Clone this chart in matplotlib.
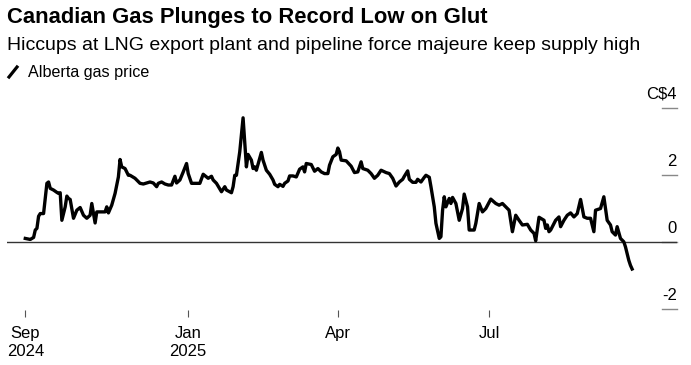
import pandas as pd
import matplotlib.pyplot as plt
from matplotlib.lines import Line2D

plt.rcParams['font.family'] = ['Liberation Sans', 'DejaVu Sans']

# Alberta gas price (C$)
dates = [
    '2024-09-25', '2024-09-28', '2024-09-30', '2024-10-01', '2024-10-02', '2024-10-03',
    '2024-10-04', '2024-10-06', '2024-10-08', '2024-10-09', '2024-10-10', '2024-10-12',
    '2024-10-14', '2024-10-15', '2024-10-16', '2024-10-17', '2024-10-19', '2024-10-20',
    '2024-10-21', '2024-10-22', '2024-10-24', '2024-10-26', '2024-10-28', '2024-10-30',
    '2024-11-01', '2024-11-03', '2024-11-04', '2024-11-06', '2024-11-07', '2024-11-09',
    '2024-11-12', '2024-11-13', '2024-11-14', '2024-11-16', '2024-11-18', '2024-11-20',
    '2024-11-21', '2024-11-22', '2024-11-24', '2024-11-26', '2024-11-27', '2024-11-30',
    '2024-12-03', '2024-12-05', '2024-12-07', '2024-12-09', '2024-12-11', '2024-12-13',
    '2024-12-14', '2024-12-16', '2024-12-18', '2024-12-20', '2024-12-22', '2024-12-24',
    '2024-12-25', '2024-12-27', '2024-12-29', '2024-12-31', '2025-01-01', '2025-01-03',
    '2025-01-05', '2025-01-08', '2025-01-10', '2025-01-12', '2025-01-13', '2025-01-15',
    '2025-01-16', '2025-01-18', '2025-01-21', '2025-01-23', '2025-01-24', '2025-01-27',
    '2025-01-28', '2025-01-29', '2025-01-30', '2025-02-01', '2025-02-03', '2025-02-04',
    '2025-02-05', '2025-02-06', '2025-02-08', '2025-02-09', '2025-02-10', '2025-02-11',
    '2025-02-14', '2025-02-15', '2025-02-17', '2025-02-19', '2025-02-21', '2025-02-22',
    '2025-02-24', '2025-02-25', '2025-02-27', '2025-02-28', '2025-03-02', '2025-03-03',
    '2025-03-05', '2025-03-07', '2025-03-09', '2025-03-11', '2025-03-12', '2025-03-13',
    '2025-03-16', '2025-03-18', '2025-03-20', '2025-03-22', '2025-03-24', '2025-03-26',
    '2025-03-27', '2025-03-29', '2025-03-31', '2025-04-01', '2025-04-02', '2025-04-03',
    '2025-04-06', '2025-04-09', '2025-04-11', '2025-04-13', '2025-04-15', '2025-04-16',
    '2025-04-19', '2025-04-21', '2025-04-23', '2025-04-25', '2025-04-27', '2025-04-30',
    '2025-05-02', '2025-05-04', '2025-05-06', '2025-05-08', '2025-05-10', '2025-05-11',
    '2025-05-13', '2025-05-14', '2025-05-16', '2025-05-18', '2025-05-19', '2025-05-21',
    '2025-05-23', '2025-05-24', '2025-05-26', '2025-05-27', '2025-05-29', '2025-05-30',
    '2025-06-01', '2025-06-02', '2025-06-03', '2025-06-04', '2025-06-05', '2025-06-07',
    '2025-06-08', '2025-06-09', '2025-06-11', '2025-06-13', '2025-06-15', '2025-06-16',
    '2025-06-18', '2025-06-19', '2025-06-22', '2025-06-23', '2025-06-25', '2025-06-27',
    '2025-06-29', '2025-07-02', '2025-07-05', '2025-07-07', '2025-07-09', '2025-07-11',
    '2025-07-13', '2025-07-15', '2025-07-17', '2025-07-19', '2025-07-21', '2025-07-24',
    '2025-07-26', '2025-07-28', '2025-07-29', '2025-07-31', '2025-08-03', '2025-08-04',
    '2025-08-05', '2025-08-06', '2025-08-07', '2025-08-10', '2025-08-12', '2025-08-13',
    '2025-08-15', '2025-08-17', '2025-08-19', '2025-08-21', '2025-08-23', '2025-08-25',
    '2025-08-27', '2025-08-29', '2025-08-31', '2025-09-02', '2025-09-03', '2025-09-06',
    '2025-09-08', '2025-09-10', '2025-09-12', '2025-09-13', '2025-09-15', '2025-09-16',
    '2025-09-18', '2025-09-20', '2025-09-21', '2025-09-23', '2025-09-24', '2025-09-25',
]
prices = [
    0.11, 0.08, 0.14, 0.36, 0.41, 0.77,
    0.85, 0.85, 1.75, 1.79, 1.60, 1.55,
    1.48, 1.45, 1.47, 0.65, 1.05, 1.37,
    1.30, 1.27, 0.71, 0.95, 1.03, 0.80,
    0.71, 0.80, 1.15, 0.57, 0.90, 0.90,
    0.90, 1.05, 0.87, 1.10, 1.45, 1.94,
    2.46, 2.24, 2.19, 1.99, 1.99, 1.90,
    1.75, 1.73, 1.76, 1.79, 1.76, 1.65,
    1.75, 1.79, 1.73, 1.70, 1.70, 1.96,
    1.76, 1.85, 2.09, 2.34, 2.04, 1.75,
    1.75, 1.75, 2.02, 1.94, 1.90, 1.96,
    1.85, 1.75, 1.50, 1.65, 1.55, 1.47,
    1.65, 1.99, 1.99, 2.69, 3.70, 2.99,
    2.24, 2.61, 2.44, 2.19, 2.24, 2.14,
    2.67, 2.44, 2.14, 2.02, 1.85, 1.72,
    1.65, 1.72, 1.66, 1.75, 1.82, 1.97,
    1.97, 1.94, 2.17, 2.24, 2.09, 2.34,
    2.31, 2.11, 2.19, 2.09, 2.04, 2.04,
    2.29, 2.54, 2.61, 2.80, 2.69, 2.44,
    2.42, 2.26, 2.07, 2.09, 2.39, 2.19,
    2.14, 2.04, 1.90, 1.99, 2.14, 2.07,
    2.04, 1.90, 1.67, 1.79, 1.87, 1.96,
    2.12, 1.87, 1.78, 1.78, 1.87, 1.79,
    1.93, 1.99, 1.93, 1.65, 1.05, 0.56,
    0.11, 0.16, 0.95, 1.35, 1.05, 1.30,
    1.15, 1.33, 1.15, 0.65, 1.00, 1.43,
    1.05, 0.36, 0.36, 0.56, 1.15, 0.90,
    1.00, 1.28, 1.15, 1.10, 1.15, 1.05,
    0.95, 0.31, 0.80, 0.65, 0.51, 0.53,
    0.36, 0.26, 0.04, 0.74, 0.65, 0.41,
    0.51, 0.31, 0.36, 0.65, 0.75, 0.46,
    0.65, 0.80, 0.87, 0.75, 0.85, 1.27,
    0.75, 0.71, 0.71, 0.31, 0.95, 1.00,
    1.35, 0.65, 0.51, 0.31, 0.21, 0.46,
    0.11, 0.01, -0.14, -0.54, -0.69, -0.80,
]

x_ticks = ['2024-09-25', '2025-01-01', '2025-04-01', '2025-07-01']
x_labels = ['Sep\n2024', 'Jan\n2025', 'Apr', 'Jul']
y_ticks = [4, 2, 0, -2]
y_labels = ['C$4', '2', '0', '-2']

df = pd.DataFrame({'date': pd.to_datetime(dates), 'price': prices})

fig = plt.figure(figsize=(6.91, 3.65), dpi=100)
ax = fig.add_axes([7 / 691, 55 / 365, 670 / 691, 210 / 365])

ax.plot(df['date'], df['price'], color='black', lw=2.4, solid_joinstyle='round', zorder=3)
ax.axhline(0, color='#333333', lw=1.0, zorder=2)

ax.set_xlim(pd.Timestamp('2024-09-14'), pd.Timestamp('2025-10-22'))
ax.set_ylim(-2.02, 4.23)

for s in ax.spines.values():
    s.set_visible(False)
ax.set_yticks([])

ax.set_xticks(pd.to_datetime(x_ticks))
ax.set_xticklabels(x_labels, fontsize=12, linespacing=1.22)
ax.tick_params(axis='x', length=5, width=0.8, color='#555555', pad=6.5, labelcolor='black')

# right-hand value labels with short marks
for v, lab in zip(y_ticks, y_labels):
    ax.plot([0.9776, 1.0], [v, v], color='#888888', lw=1.0,
            transform=ax.get_yaxis_transform(), clip_on=False, zorder=1)
    ax.annotate(lab, xy=(1.0, v), xycoords=ax.get_yaxis_transform(),
                xytext=(0, 4.5), textcoords='offset points',
                ha='right', va='bottom', fontsize=12, annotation_clip=False)

fig.text(7 / 691, 1 - 18 / 365, 'Canadian Gas Plunges to Record Low on Glut',
         fontsize=15.8, fontweight='bold', va='center', ha='left')
fig.text(7 / 691, 1 - 46 / 365,
         'Hiccups at LNG export plant and pipeline force majeure keep supply high',
         fontsize=14.0, va='center', ha='left')
fig.add_artist(Line2D([9 / 691, 17 / 691], [1 - 77 / 365, 1 - 67 / 365],
                      color='black', lw=2.3, transform=fig.transFigure))
fig.text(28 / 691, 1 - 72 / 365, 'Alberta gas price', fontsize=11.6, va='center', ha='left')

fig.savefig('out.png', dpi=100)
